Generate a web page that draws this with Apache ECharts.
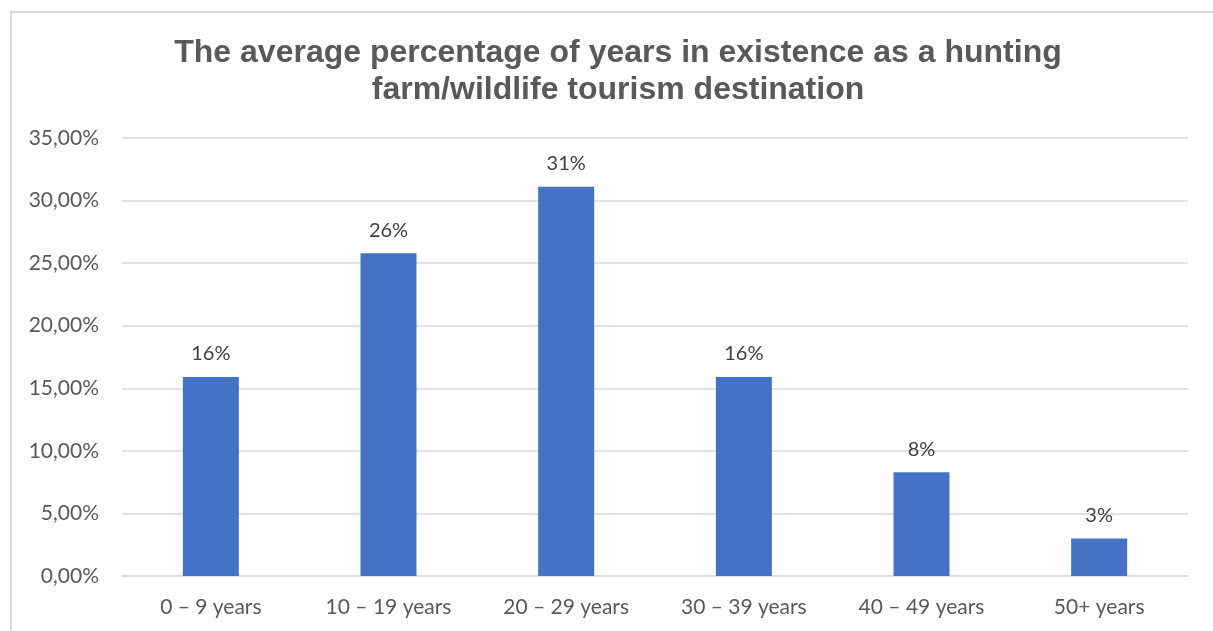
<!DOCTYPE html>
<html>
<head>
<meta charset="utf-8">
<script src="https://cdn.jsdelivr.net/npm/echarts@6/dist/echarts.min.js"></script>
<style>
  html, body { margin: 0; padding: 0; background: #fff; }
  #frame { position: absolute; left: 10px; top: 11px; width: 1240px; height: 660px; border: 2px solid #d9d9d9; box-sizing: border-box; }
  #container { position: absolute; left: 0; top: 0; width: 1213px; height: 631px; }
</style>
</head>
<body>
<div id="frame"></div>
<div id="container"></div>
<script>
// categories and values (percent)
var categories = ['0 – 9 years', '10 – 19 years', '20 – 29 years', '30 – 39 years', '40 – 49 years', '50+ years'];
var values = [15.9, 25.8, 31.1, 15.9, 8.3, 3.0];
var yTicks = [0, 5, 10, 15, 20, 25, 30, 35];

var dom = document.getElementById('container');
var myChart = echarts.init(dom, null, { renderer: 'canvas' });

var option = {
    animation: false,
    title: {
        text: 'The average percentage of years in existence as a hunting\nfarm/wildlife tourism destination',
        left: 613,
        textAlign: 'center',
        top: 30,
        textStyle: {
            fontFamily: 'Liberation Sans',
            fontWeight: 'bold',
            fontSize: 32,
            lineHeight: 37,
            color: '#595959'
        }
    },
    grid: { left: 122, right: 25, top: 138, bottom: 55 },
    xAxis: {
        type: 'category',
        data: categories,
        axisTick: { show: false },
        axisLine: { lineStyle: { color: '#d9d9d9', width: 1.5 } },
        axisLabel: { color: '#595959', fontSize: 21, fontFamily: 'Lato', margin: 21 }
    },
    yAxis: {
        type: 'value',
        min: yTicks[0],
        max: yTicks[yTicks.length - 1],
        interval: 5,
        axisLine: { show: false },
        axisTick: { show: false },
        splitLine: { lineStyle: { color: '#d9d9d9', width: 1.5 } },
        axisLabel: {
            color: '#595959', fontSize: 21, fontFamily: 'Lato', margin: 23,
            formatter: function (v) { return v.toFixed(2).replace('.', ',') + '%'; }
        }
    },
    series: [{
        type: 'bar',
        data: values,
        barWidth: 56,
        itemStyle: { color: '#4472c4' },
        label: {
            show: true,
            position: 'top',
            distance: 13,
            color: '#404040',
            fontSize: 20,
            fontFamily: 'Lato',
            formatter: function (p) { return Math.round(p.value) + '%'; }
        }
    }]
};

myChart.setOption(option);
</script>
</body>
</html>
